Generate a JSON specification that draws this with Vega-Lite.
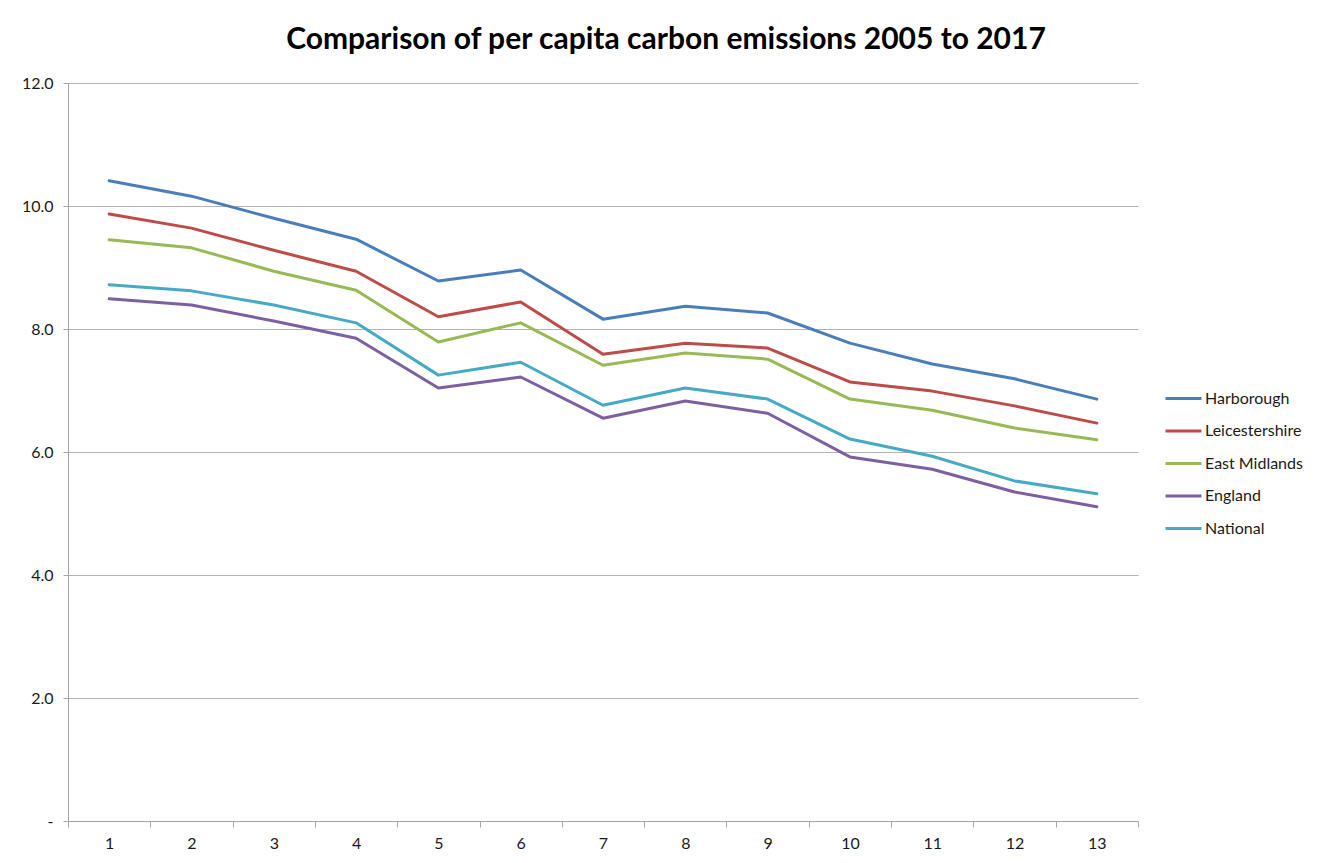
{
  "$schema": "https://vega.github.io/schema/vega-lite/v6.json",
  "autosize": "none",
  "width": 1070,
  "height": 738,
  "padding": {"left": 68, "top": 83, "right": 195, "bottom": 42},
  "background": "white",
  "title": {
    "text": "Comparison of per capita carbon emissions 2005 to 2017",
    "font": "Lato",
    "fontSize": 30,
    "fontWeight": "bold",
    "color": "#000000",
    "anchor": "middle",
    "dx": 63,
    "offset": 20
  },
  "data": {
    "values": [
      {"year": 1, "area": "Harborough", "value": 10.41},
      {"year": 2, "area": "Harborough", "value": 10.16},
      {"year": 3, "area": "Harborough", "value": 9.80},
      {"year": 4, "area": "Harborough", "value": 9.46},
      {"year": 5, "area": "Harborough", "value": 8.78},
      {"year": 6, "area": "Harborough", "value": 8.96},
      {"year": 7, "area": "Harborough", "value": 8.16},
      {"year": 8, "area": "Harborough", "value": 8.37},
      {"year": 9, "area": "Harborough", "value": 8.26},
      {"year": 10, "area": "Harborough", "value": 7.77},
      {"year": 11, "area": "Harborough", "value": 7.43},
      {"year": 12, "area": "Harborough", "value": 7.19},
      {"year": 13, "area": "Harborough", "value": 6.86},
      {"year": 1, "area": "Leicestershire", "value": 9.87},
      {"year": 2, "area": "Leicestershire", "value": 9.64},
      {"year": 3, "area": "Leicestershire", "value": 9.28},
      {"year": 4, "area": "Leicestershire", "value": 8.94},
      {"year": 5, "area": "Leicestershire", "value": 8.20},
      {"year": 6, "area": "Leicestershire", "value": 8.44},
      {"year": 7, "area": "Leicestershire", "value": 7.59},
      {"year": 8, "area": "Leicestershire", "value": 7.77},
      {"year": 9, "area": "Leicestershire", "value": 7.69},
      {"year": 10, "area": "Leicestershire", "value": 7.14},
      {"year": 11, "area": "Leicestershire", "value": 6.99},
      {"year": 12, "area": "Leicestershire", "value": 6.75},
      {"year": 13, "area": "Leicestershire", "value": 6.47},
      {"year": 1, "area": "East Midlands", "value": 9.45},
      {"year": 2, "area": "East Midlands", "value": 9.32},
      {"year": 3, "area": "East Midlands", "value": 8.94},
      {"year": 4, "area": "East Midlands", "value": 8.63},
      {"year": 5, "area": "East Midlands", "value": 7.79},
      {"year": 6, "area": "East Midlands", "value": 8.10},
      {"year": 7, "area": "East Midlands", "value": 7.41},
      {"year": 8, "area": "East Midlands", "value": 7.61},
      {"year": 9, "area": "East Midlands", "value": 7.51},
      {"year": 10, "area": "East Midlands", "value": 6.86},
      {"year": 11, "area": "East Midlands", "value": 6.68},
      {"year": 12, "area": "East Midlands", "value": 6.39},
      {"year": 13, "area": "East Midlands", "value": 6.20},
      {"year": 1, "area": "England", "value": 8.49},
      {"year": 2, "area": "England", "value": 8.39},
      {"year": 3, "area": "England", "value": 8.13},
      {"year": 4, "area": "England", "value": 7.85},
      {"year": 5, "area": "England", "value": 7.04},
      {"year": 6, "area": "England", "value": 7.22},
      {"year": 7, "area": "England", "value": 6.55},
      {"year": 8, "area": "England", "value": 6.83},
      {"year": 9, "area": "England", "value": 6.63},
      {"year": 10, "area": "England", "value": 5.92},
      {"year": 11, "area": "England", "value": 5.72},
      {"year": 12, "area": "England", "value": 5.35},
      {"year": 13, "area": "England", "value": 5.11},
      {"year": 1, "area": "National", "value": 8.72},
      {"year": 2, "area": "National", "value": 8.62},
      {"year": 3, "area": "National", "value": 8.39},
      {"year": 4, "area": "National", "value": 8.10},
      {"year": 5, "area": "National", "value": 7.25},
      {"year": 6, "area": "National", "value": 7.46},
      {"year": 7, "area": "National", "value": 6.76},
      {"year": 8, "area": "National", "value": 7.04},
      {"year": 9, "area": "National", "value": 6.86},
      {"year": 10, "area": "National", "value": 6.21},
      {"year": 11, "area": "National", "value": 5.93},
      {"year": 12, "area": "National", "value": 5.53},
      {"year": 13, "area": "National", "value": 5.32}
    ]
  },
  "mark": {"type": "line", "strokeWidth": 3, "strokeCap": "round", "strokeJoin": "round"},
  "encoding": {
    "x": {
      "field": "year",
      "type": "ordinal",
      "sort": "ascending",
      "scale": {"paddingInner": 0, "paddingOuter": 0},
      "axis": {
        "title": null,
        "labelAngle": 0,
        "tickBand": "extent",
        "tickSize": 6,
        "tickColor": "#a6a6a6",
        "domainColor": "#a6a6a6",
        "labelFont": "Lato",
        "labelFontSize": 16,
        "labelColor": "#1a1a1a",
        "labelPadding": 8,
        "grid": false
      }
    },
    "y": {
      "field": "value",
      "type": "quantitative",
      "scale": {"domain": [0, 12], "nice": false},
      "axis": {
        "title": null,
        "values": [0, 2, 4, 6, 8, 10, 12],
        "labelExpr": "datum.value === 0 ? '-' : format(datum.value, '.1f')",
        "tickSize": 5,
        "tickColor": "#a6a6a6",
        "domainColor": "#a6a6a6",
        "gridColor": "#b3b3b3",
        "gridWidth": 1,
        "labelFont": "Lato",
        "labelFontSize": 16,
        "labelColor": "#1a1a1a",
        "labelPadding": 10
      }
    },
    "color": {
      "field": "area",
      "type": "nominal",
      "sort": ["Harborough", "Leicestershire", "East Midlands", "England", "National"],
      "scale": {
        "domain": ["Harborough", "Leicestershire", "East Midlands", "England", "National"],
        "range": ["#4A7EBB", "#BE4B48", "#98B954", "#7D60A0", "#46AAC5"]
      },
      "legend": {
        "title": null,
        "orient": "none",
        "legendX": 1096,
        "legendY": 296,
        "symbolType": "stroke",
        "symbolSize": 1296,
        "symbolStrokeWidth": 3,
        "labelFont": "Lato",
        "labelFontSize": 16,
        "labelColor": "#1a1a1a",
        "labelOffset": 2,
        "rowPadding": 4.5
      }
    }
  },
  "config": {
    "view": {"stroke": null}
  }
}
